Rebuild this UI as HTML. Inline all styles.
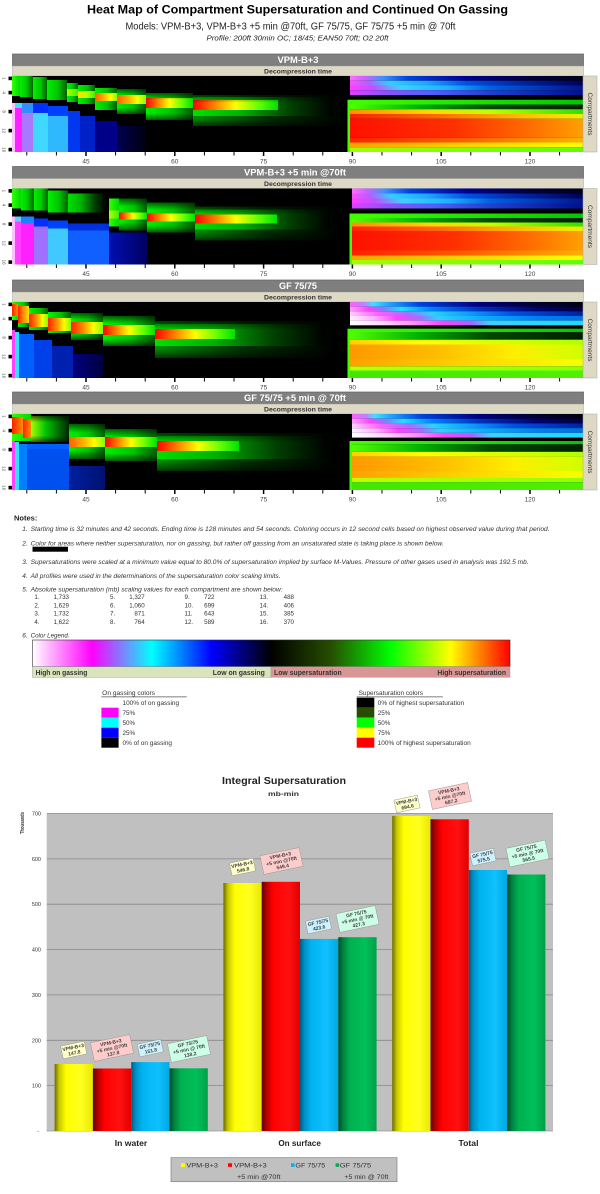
<!DOCTYPE html>
<html><head><meta charset="utf-8"><style>
html,body{margin:0;padding:0;background:#fff;width:600px;height:1194px;overflow:hidden}
svg{display:block}
</style></head><body>
<svg xmlns="http://www.w3.org/2000/svg" width="600" height="1194" viewBox="0 0 600 1194" font-family="'Liberation Sans', Arial, sans-serif">
<defs>
<linearGradient id="vE" x1="0" y1="0" x2="0" y2="1"><stop offset="0" stop-color="#000" stop-opacity=".6"/><stop offset=".25" stop-color="#000" stop-opacity="0"/><stop offset=".75" stop-color="#000" stop-opacity="0"/><stop offset="1" stop-color="#000" stop-opacity=".6"/></linearGradient>
<linearGradient id="gG"><stop offset="0" stop-color="#00f000"/><stop offset=".55" stop-color="#00c400"/><stop offset="1" stop-color="#006000"/></linearGradient>
<linearGradient id="gGB"><stop offset="0" stop-color="#30ff00"/><stop offset="1" stop-color="#00d800"/></linearGradient>
<linearGradient id="gF"><stop offset="0" stop-color="#00e000"/><stop offset=".35" stop-color="#00b000"/><stop offset=".7" stop-color="#004000"/><stop offset="1" stop-color="#000"/></linearGradient>
<linearGradient id="gFD"><stop offset="0" stop-color="#009000"/><stop offset=".5" stop-color="#003000"/><stop offset="1" stop-color="#000"/></linearGradient>
<linearGradient id="gC"><stop offset="0" stop-color="#ff0000"/><stop offset=".25" stop-color="#ff8000"/><stop offset=".5" stop-color="#ffff00"/><stop offset=".78" stop-color="#60ff00"/><stop offset="1" stop-color="#00e000"/></linearGradient>
<linearGradient id="gC2"><stop offset="0" stop-color="#ff2000"/><stop offset=".4" stop-color="#ff9000"/><stop offset=".7" stop-color="#ffff00"/><stop offset="1" stop-color="#80ff00"/></linearGradient>
<linearGradient id="gCO"><stop offset="0" stop-color="#ff6000"/><stop offset=".4" stop-color="#ffb000"/><stop offset=".7" stop-color="#ffff00"/><stop offset="1" stop-color="#80ff00"/></linearGradient>
<linearGradient id="gCY"><stop offset="0" stop-color="#ffe000"/><stop offset=".5" stop-color="#c0ff00"/><stop offset="1" stop-color="#40f000"/></linearGradient>
<linearGradient id="gCYG"><stop offset="0" stop-color="#b0ff00"/><stop offset="1" stop-color="#40f000"/></linearGradient>
<linearGradient id="gCR"><stop offset="0" stop-color="#ff2000"/><stop offset="1" stop-color="#ff9000"/></linearGradient>
<linearGradient id="gCR2"><stop offset="0" stop-color="#ff2000"/><stop offset=".5" stop-color="#ff9000"/><stop offset="1" stop-color="#ffe000"/></linearGradient>
<linearGradient id="gG4"><stop offset="0" stop-color="#a0ff00"/><stop offset=".4" stop-color="#00c000"/><stop offset="1" stop-color="#002800"/></linearGradient>
<linearGradient id="gNv"><stop offset="0" stop-color="#000050"/><stop offset="1" stop-color="#000010"/></linearGradient>
<linearGradient id="gNv2"><stop offset="0" stop-color="#0010b0"/><stop offset="1" stop-color="#000060"/></linearGradient>
<linearGradient id="gNv3"><stop offset="0" stop-color="#000080"/><stop offset="1" stop-color="#000040"/></linearGradient>
<linearGradient id="gNv4"><stop offset="0" stop-color="#0020a0"/><stop offset="1" stop-color="#001070"/></linearGradient>
<linearGradient id="gOnA1"><stop offset="0" stop-color="#ff70ff"/><stop offset=".06" stop-color="#d060ff"/><stop offset=".14" stop-color="#4090ff"/><stop offset=".25" stop-color="#0040e0"/><stop offset=".5" stop-color="#000090"/><stop offset=".75" stop-color="#000040"/><stop offset="1" stop-color="#000018"/></linearGradient>
<linearGradient id="gOnA2"><stop offset="0" stop-color="#ff50ff"/><stop offset=".08" stop-color="#b060ff"/><stop offset=".17" stop-color="#30d0ff"/><stop offset=".32" stop-color="#20a8ff"/><stop offset=".5" stop-color="#0050e0"/><stop offset=".75" stop-color="#0020a0"/><stop offset="1" stop-color="#000058"/></linearGradient>
<linearGradient id="gOnA3"><stop offset="0" stop-color="#ff40ff"/><stop offset=".1" stop-color="#c050ff"/><stop offset=".22" stop-color="#40d0ff"/><stop offset=".42" stop-color="#20b0ff"/><stop offset=".6" stop-color="#0060e0"/><stop offset=".85" stop-color="#0030b0"/><stop offset="1" stop-color="#001888"/></linearGradient>
<linearGradient id="gOnA4"><stop offset="0" stop-color="#e040ff"/><stop offset=".15" stop-color="#9050ff"/><stop offset=".35" stop-color="#5060ff"/><stop offset=".6" stop-color="#2040d0"/><stop offset="1" stop-color="#001090"/></linearGradient>
<linearGradient id="gOnB1"><stop offset="0" stop-color="#ff60ff"/><stop offset=".06" stop-color="#c080ff"/><stop offset=".1" stop-color="#40e0ff"/><stop offset=".17" stop-color="#20a0ff"/><stop offset=".3" stop-color="#0040e0"/><stop offset=".55" stop-color="#000080"/><stop offset=".8" stop-color="#000030"/><stop offset="1" stop-color="#000010"/></linearGradient>
<linearGradient id="gOnB2"><stop offset="0" stop-color="#ffa0ff"/><stop offset=".08" stop-color="#ff40ff"/><stop offset=".15" stop-color="#8080ff"/><stop offset=".22" stop-color="#20e0ff"/><stop offset=".35" stop-color="#0080ff"/><stop offset=".55" stop-color="#0030c0"/><stop offset=".8" stop-color="#000070"/><stop offset="1" stop-color="#000040"/></linearGradient>
<linearGradient id="gOnB3"><stop offset="0" stop-color="#ffd0ff"/><stop offset=".12" stop-color="#ff60ff"/><stop offset=".25" stop-color="#a070ff"/><stop offset=".35" stop-color="#30d0ff"/><stop offset=".5" stop-color="#10a0ff"/><stop offset=".7" stop-color="#0050e0"/><stop offset="1" stop-color="#0020a0"/></linearGradient>
<linearGradient id="gOnB4"><stop offset="0" stop-color="#fff0ff"/><stop offset=".1" stop-color="#ffb0ff"/><stop offset=".2" stop-color="#ff40ff"/><stop offset=".3" stop-color="#a070ff"/><stop offset=".38" stop-color="#30d0ff"/><stop offset=".55" stop-color="#10b0ff"/><stop offset=".8" stop-color="#0080f0"/><stop offset="1" stop-color="#0070e0"/></linearGradient>
<linearGradient id="gOnB5"><stop offset="0" stop-color="#ffffff"/><stop offset=".15" stop-color="#ffd0ff"/><stop offset=".3" stop-color="#ff80ff"/><stop offset=".4" stop-color="#ff40ff"/><stop offset=".52" stop-color="#b060ff"/><stop offset=".6" stop-color="#40d0ff"/><stop offset="1" stop-color="#20d8ff"/></linearGradient>
<linearGradient id="gRg1"><stop offset="0" stop-color="#40ff00"/><stop offset="1" stop-color="#00c800"/></linearGradient>
<linearGradient id="gRg2"><stop offset="0" stop-color="#50ff00"/><stop offset=".3" stop-color="#00b000"/><stop offset=".6" stop-color="#004800"/><stop offset="1" stop-color="#002000"/></linearGradient>
<linearGradient id="gRy"><stop offset="0" stop-color="#ff9000"/><stop offset=".35" stop-color="#ffd800"/><stop offset=".6" stop-color="#c0ff00"/><stop offset="1" stop-color="#30e000"/></linearGradient>
<linearGradient id="gRtop"><stop offset="0" stop-color="#ff2000"/><stop offset=".4" stop-color="#ff7000"/><stop offset=".75" stop-color="#ffc000"/><stop offset="1" stop-color="#f0f000"/></linearGradient>
<linearGradient id="gRblk"><stop offset="0" stop-color="#ff1000"/><stop offset=".45" stop-color="#ff3000"/><stop offset=".75" stop-color="#ff6800"/><stop offset="1" stop-color="#ffa000"/></linearGradient>
<linearGradient id="gR14"><stop offset="0" stop-color="#ff2000"/><stop offset=".5" stop-color="#ff6000"/><stop offset="1" stop-color="#ffb000"/></linearGradient>
<linearGradient id="gR15"><stop offset="0" stop-color="#ffa000"/><stop offset=".5" stop-color="#ffd000"/><stop offset="1" stop-color="#ffff00"/></linearGradient>
<linearGradient id="gR16"><stop offset="0" stop-color="#a0ff00"/><stop offset="1" stop-color="#60ff00"/></linearGradient>
<linearGradient id="gOy1"><stop offset="0" stop-color="#ffd000"/><stop offset=".3" stop-color="#ffff00"/><stop offset="1" stop-color="#b0ff00"/></linearGradient>
<linearGradient id="gOy2"><stop offset="0" stop-color="#ff9800"/><stop offset=".4" stop-color="#ffc000"/><stop offset=".7" stop-color="#ffee00"/><stop offset="1" stop-color="#d0ff00"/></linearGradient>
<linearGradient id="gOy3"><stop offset="0" stop-color="#ffa000"/><stop offset=".5" stop-color="#ffd400"/><stop offset="1" stop-color="#f8ff00"/></linearGradient>
<linearGradient id="gOy4"><stop offset="0" stop-color="#c0ff00"/><stop offset="1" stop-color="#90ff00"/></linearGradient>
<linearGradient id="gOy5"><stop offset="0" stop-color="#40e800"/><stop offset="1" stop-color="#50f000"/></linearGradient>
<linearGradient id="gLeg"><stop offset="0" stop-color="#ffffff"/><stop offset=".125" stop-color="#ff00ff"/><stop offset=".25" stop-color="#00ffff"/><stop offset=".375" stop-color="#0000ff"/><stop offset=".5" stop-color="#000000"/><stop offset=".625" stop-color="#264d00"/><stop offset=".75" stop-color="#00ff00"/><stop offset=".875" stop-color="#ffff00"/><stop offset="1" stop-color="#ff0000"/></linearGradient>
<linearGradient id="bY"><stop offset="0" stop-color="#6b6b00"/><stop offset=".12" stop-color="#c8c800"/><stop offset=".3" stop-color="#ffff00"/><stop offset=".7" stop-color="#ffff20"/><stop offset="1" stop-color="#e8e800"/></linearGradient>
<linearGradient id="bR"><stop offset="0" stop-color="#600000"/><stop offset=".12" stop-color="#b00000"/><stop offset=".3" stop-color="#ff0000"/><stop offset=".7" stop-color="#ff1010"/><stop offset="1" stop-color="#e00000"/></linearGradient>
<linearGradient id="bB"><stop offset="0" stop-color="#005a80"/><stop offset=".12" stop-color="#0090c8"/><stop offset=".3" stop-color="#00b4f0"/><stop offset=".7" stop-color="#10c0ff"/><stop offset="1" stop-color="#00a8e0"/></linearGradient>
<linearGradient id="bG"><stop offset="0" stop-color="#004a25"/><stop offset=".12" stop-color="#008040"/><stop offset=".3" stop-color="#00b050"/><stop offset=".7" stop-color="#00c058"/><stop offset="1" stop-color="#00a048"/></linearGradient>
<clipPath id="hc"><rect x="12" y="0" width="571" height="76"/></clipPath>
</defs>
<rect width="600" height="1194" fill="#fff"/>

<!-- Titles -->
<text x="297.5" y="13.5" font-size="12" font-weight="bold" text-anchor="middle" textLength="421" lengthAdjust="spacingAndGlyphs">Heat Map of Compartment Supersaturation and Continued On Gassing</text>
<text x="290.5" y="29.5" font-size="10" text-anchor="middle" fill="#222" textLength="330" lengthAdjust="spacingAndGlyphs">Models:  VPM-B+3, VPM-B+3 +5 min @70ft, GF 75/75, GF 75/75 +5 min @ 70ft</text>
<text x="297.5" y="40.5" font-size="7.5" font-style="italic" text-anchor="middle" fill="#222" textLength="182" lengthAdjust="spacingAndGlyphs">Profile:  200ft 30min OC; 18/45; EAN50 70ft; O2 20ft</text>

<!-- ===== PANEL 1 ===== -->
<g transform="translate(0,76)">
 <rect x="12.5" y="-22" width="571" height="12" fill="#7f7f7f" stroke="#5f5f5f" stroke-width="0.7"/>
 <text x="298" y="-12.8" font-size="9.5" font-weight="bold" fill="#fff" text-anchor="middle" textLength="41" lengthAdjust="spacingAndGlyphs">VPM-B+3</text>
 <rect x="12.5" y="-10" width="571" height="10" fill="#ddd9c4" stroke="#a6a6a6" stroke-width="0.5"/>
 <text x="298" y="-2.6" font-size="6.5" font-weight="bold" fill="#333" text-anchor="middle" textLength="68" lengthAdjust="spacingAndGlyphs">Decompression time</text>
 <g clip-path="url(#hc)">
  <rect x="12" y="0" width="571" height="76" fill="#000"/>
  <rect x="12" y="0" width="8" height="20" fill="url(#gGB)"/>
  <rect x="20" y="0" width="13" height="21" fill="url(#gG)"/>
  <rect x="33" y="1" width="14" height="22" fill="url(#gG)"/>
  <rect x="47" y="4" width="20" height="20" fill="url(#gG)"/>
  <rect x="67" y="7" width="11" height="19" fill="url(#gG)"/>
  <rect x="67" y="13" width="11" height="7" fill="url(#gCYG)"/>
  <rect x="78" y="9" width="17" height="19" fill="url(#gG)"/>
  <rect x="78" y="15" width="17" height="7" fill="url(#gCY)"/>
  <rect x="95" y="12" width="22" height="22" fill="url(#gG)"/>
  <rect x="95" y="17" width="22" height="8" fill="url(#gCO)"/>
  <rect x="117" y="13" width="29" height="25" fill="url(#gG)"/>
  <rect x="117" y="19" width="29" height="9" fill="url(#gCO)"/>
  <rect x="146" y="17" width="47" height="27" fill="url(#gG)"/>
  <rect x="146" y="22" width="47" height="10" fill="url(#gC)"/>
  <rect x="193" y="19" width="152" height="31" fill="url(#gFD)"/>
  <rect x="193" y="21" width="140" height="19" fill="url(#gF)"/>
  <rect x="193" y="24" width="85" height="10" fill="url(#gC)"/>
  <rect x="95" y="12" width="250" height="38" fill="url(#vE)" opacity=".0"/>
  <rect x="146" y="17" width="47" height="27" fill="url(#vE)"/>
  <rect x="193" y="19" width="152" height="31" fill="url(#vE)"/>
  <rect x="117" y="13" width="29" height="25" fill="url(#vE)"/>
  <rect x="12" y="27" width="3" height="49" fill="#ffc0ff"/>
  <rect x="15" y="27" width="7" height="5" fill="#40e0ff"/>
  <rect x="15" y="32" width="7" height="44" fill="#ff20ff"/>
  <rect x="22" y="27" width="11" height="10" fill="#3090ff"/>
  <rect x="22" y="37" width="11" height="39" fill="#a878ff"/>
  <rect x="33" y="27" width="15" height="10" fill="#0030ff"/>
  <rect x="33" y="37" width="15" height="39" fill="#40d8ff"/>
  <rect x="48" y="30" width="20" height="10" fill="#0040ff"/>
  <rect x="48" y="40" width="20" height="36" fill="#30b8ff"/>
  <rect x="68" y="35" width="12" height="41" fill="#0038f0"/>
  <rect x="80" y="40" width="15" height="36" fill="#0020c8"/>
  <rect x="95" y="45" width="22" height="31" fill="#000088"/>
  <rect x="117" y="50" width="29" height="26" fill="url(#gNv)"/>
  <rect x="350" y="0" width="233" height="4.75" fill="url(#gOnA1)"/>
  <rect x="350" y="4.75" width="233" height="4.75" fill="url(#gOnA2)"/>
  <rect x="350" y="9.5" width="233" height="4.75" fill="url(#gOnA3)"/>
  <rect x="350" y="14.25" width="233" height="4.75" fill="url(#gOnA4)"/>
  <rect x="350" y="23.75" width="233" height="4.75" fill="url(#gRg1)"/>
  <rect x="350" y="28.5" width="233" height="4.75" fill="url(#gRg2)"/>
  <rect x="350" y="33.25" width="233" height="4.75" fill="url(#gRy)"/>
  <rect x="350" y="38" width="233" height="4.75" fill="url(#gRtop)"/>
  <rect x="350" y="42.75" width="233" height="19" fill="url(#gRblk)"/>
  <rect x="350" y="61.75" width="233" height="4.75" fill="url(#gR14)"/>
  <rect x="350" y="66.5" width="233" height="4.75" fill="url(#gR15)"/>
  <rect x="350" y="71.25" width="233" height="4.75" fill="url(#gR16)"/>
  <rect x="347.5" y="23.75" width="2.5" height="52.25" fill="#40ff00"/>
 </g>
 <rect x="583" y="0" width="14" height="76" fill="#ddd9c4" stroke="#a6a6a6" stroke-width="0.5"/>
 <text transform="translate(588,38) rotate(90)" font-size="6.5" text-anchor="middle" fill="#333" textLength="43" lengthAdjust="spacingAndGlyphs">Compartments</text>
 <g fill="#000"><rect x="8.5" y="0.6" width="3.5" height="3.6"/><rect x="8.5" y="14.8" width="3.5" height="3.6"/><rect x="8.5" y="33.8" width="3.5" height="3.6"/><rect x="8.5" y="52.8" width="3.5" height="3.6"/><rect x="8.5" y="71.8" width="3.5" height="3.6"/></g>
 <g font-size="4.5" fill="#444" text-anchor="middle"><text transform="translate(2.5,2.4) rotate(90)">1</text><text transform="translate(2.5,16.6) rotate(90)">4</text><text transform="translate(2.5,35.6) rotate(90)">8</text><text transform="translate(2.5,54.6) rotate(90)">12</text><text transform="translate(2.5,73.6) rotate(90)">16</text></g>
 <path d="M26.8 76v3.5M56.4 76v3.5M115.6 76v3.5M145.2 76v3.5M204.4 76v3.5M234 76v3.5M293.2 76v3.5M322.8 76v3.5M382 76v3.5M411.6 76v3.5M470.8 76v3.5M500.4 76v3.5M559.6 76v3.5" stroke="#000" stroke-width="1"/>
 <path d="M86 76v4M174.8 76v4M263.6 76v4M352.4 76v4M441.2 76v4M530 76v4" stroke="#000" stroke-width="1.5"/>
 <g font-size="6.5" fill="#444" text-anchor="middle"><text x="86" y="87.5">45</text><text x="174.8" y="87.5">60</text><text x="263.6" y="87.5">75</text><text x="352.4" y="87.5">90</text><text x="441.2" y="87.5">105</text><text x="530" y="87.5">120</text></g>
</g>

<!-- ===== PANEL 2 ===== -->
<g transform="translate(0,188.5)">
 <rect x="12.5" y="-22" width="571" height="12" fill="#7f7f7f" stroke="#5f5f5f" stroke-width="0.7"/>
 <text x="295" y="-12.8" font-size="9.5" font-weight="bold" fill="#fff" text-anchor="middle" textLength="102" lengthAdjust="spacingAndGlyphs">VPM-B+3 +5 min @70ft</text>
 <rect x="12.5" y="-10" width="571" height="10" fill="#ddd9c4" stroke="#a6a6a6" stroke-width="0.5"/>
 <text x="298" y="-2.6" font-size="6.5" font-weight="bold" fill="#333" text-anchor="middle" textLength="68" lengthAdjust="spacingAndGlyphs">Decompression time</text>
 <g clip-path="url(#hc)">
  <rect x="12" y="0" width="571" height="76" fill="#000"/>
  <rect x="12" y="0" width="9" height="20" fill="url(#gGB)"/>
  <rect x="21" y="0" width="13" height="22" fill="url(#gG)"/>
  <rect x="34" y="0" width="14" height="22" fill="url(#gG)"/>
  <rect x="48" y="2" width="20" height="22" fill="url(#gG)"/>
  <rect x="68" y="5" width="38" height="19" fill="url(#gF)"/>
  <rect x="109" y="10" width="10" height="28" fill="url(#gGB)"/>
  <rect x="109" y="22" width="10" height="8" fill="url(#gCYG)"/>
  <rect x="119" y="10" width="28" height="32" fill="url(#gG)"/>
  <rect x="119" y="24" width="28" height="7" fill="url(#gC)"/>
  <rect x="147" y="14" width="48" height="30" fill="url(#gG)"/>
  <rect x="147" y="25" width="48" height="8" fill="url(#gC)"/>
  <rect x="195" y="18" width="145" height="34" fill="url(#gFD)"/>
  <rect x="195" y="21" width="135" height="20" fill="url(#gF)"/>
  <rect x="195" y="26" width="82" height="9" fill="url(#gC)"/>
  <rect x="119" y="10" width="28" height="32" fill="url(#vE)"/>
  <rect x="147" y="14" width="48" height="30" fill="url(#vE)"/>
  <rect x="195" y="18" width="145" height="34" fill="url(#vE)"/>
  <rect x="12" y="28" width="3" height="48" fill="#ffc0ff"/>
  <rect x="15" y="28" width="6" height="5" fill="#60d0ff"/>
  <rect x="15" y="33" width="6" height="43" fill="#ff40ff"/>
  <rect x="21" y="28" width="13" height="7" fill="#2080ff"/>
  <rect x="21" y="35" width="13" height="41" fill="#ff20ff"/>
  <rect x="34" y="30" width="14" height="8" fill="#0030ff"/>
  <rect x="34" y="38" width="14" height="38" fill="#a070ff"/>
  <rect x="48" y="32" width="20" height="8" fill="#0040ff"/>
  <rect x="48" y="40" width="20" height="36" fill="#40c8ff"/>
  <rect x="68" y="35" width="41" height="7" fill="#0030e0"/>
  <rect x="68" y="42" width="41" height="34" fill="#1060ff"/>
  <rect x="109" y="44" width="38" height="32" fill="url(#gNv2)"/>
  <rect x="352" y="0" width="231" height="5" fill="url(#gOnA1)"/>
  <rect x="352" y="5" width="231" height="5" fill="url(#gOnA2)"/>
  <rect x="352" y="10" width="231" height="5" fill="url(#gOnA3)"/>
  <rect x="352" y="15" width="231" height="5" fill="url(#gOnA4)"/>
  <rect x="352" y="25" width="231" height="4.5" fill="url(#gRg1)"/>
  <rect x="352" y="29.5" width="231" height="4.5" fill="url(#gRg2)"/>
  <rect x="352" y="34" width="231" height="4" fill="url(#gRy)"/>
  <rect x="352" y="38" width="231" height="4.5" fill="url(#gRtop)"/>
  <rect x="352" y="42.5" width="231" height="19.5" fill="url(#gRblk)"/>
  <rect x="352" y="62" width="231" height="5" fill="url(#gR14)"/>
  <rect x="352" y="67" width="231" height="4.5" fill="url(#gR15)"/>
  <rect x="352" y="71.5" width="231" height="4.5" fill="url(#gR16)"/>
  <rect x="349.5" y="25" width="2.5" height="51" fill="#40ff00"/>
 </g>
 <rect x="583" y="0" width="14" height="76" fill="#ddd9c4" stroke="#a6a6a6" stroke-width="0.5"/>
 <text transform="translate(588,38) rotate(90)" font-size="6.5" text-anchor="middle" fill="#333" textLength="43" lengthAdjust="spacingAndGlyphs">Compartments</text>
 <g fill="#000"><rect x="8.5" y="0.6" width="3.5" height="3.6"/><rect x="8.5" y="14.8" width="3.5" height="3.6"/><rect x="8.5" y="33.8" width="3.5" height="3.6"/><rect x="8.5" y="52.8" width="3.5" height="3.6"/><rect x="8.5" y="71.8" width="3.5" height="3.6"/></g>
 <g font-size="4.5" fill="#444" text-anchor="middle"><text transform="translate(2.5,2.4) rotate(90)">1</text><text transform="translate(2.5,16.6) rotate(90)">4</text><text transform="translate(2.5,35.6) rotate(90)">8</text><text transform="translate(2.5,54.6) rotate(90)">12</text><text transform="translate(2.5,73.6) rotate(90)">16</text></g>
 <path d="M26.8 76v3.5M56.4 76v3.5M115.6 76v3.5M145.2 76v3.5M204.4 76v3.5M234 76v3.5M293.2 76v3.5M322.8 76v3.5M382 76v3.5M411.6 76v3.5M470.8 76v3.5M500.4 76v3.5M559.6 76v3.5" stroke="#000" stroke-width="1"/>
 <path d="M86 76v4M174.8 76v4M263.6 76v4M352.4 76v4M441.2 76v4M530 76v4" stroke="#000" stroke-width="1.5"/>
 <g font-size="6.5" fill="#444" text-anchor="middle"><text x="86" y="87.5">45</text><text x="174.8" y="87.5">60</text><text x="263.6" y="87.5">75</text><text x="352.4" y="87.5">90</text><text x="441.2" y="87.5">105</text><text x="530" y="87.5">120</text></g>
</g>

<!-- ===== PANEL 3 ===== -->
<g transform="translate(0,302)">
 <rect x="12.5" y="-22" width="571" height="12" fill="#7f7f7f" stroke="#5f5f5f" stroke-width="0.7"/>
 <text x="298" y="-12.8" font-size="9.5" font-weight="bold" fill="#fff" text-anchor="middle" textLength="38" lengthAdjust="spacingAndGlyphs">GF 75/75</text>
 <rect x="12.5" y="-10" width="571" height="10" fill="#ddd9c4" stroke="#a6a6a6" stroke-width="0.5"/>
 <text x="298" y="-2.6" font-size="6.5" font-weight="bold" fill="#333" text-anchor="middle" textLength="68" lengthAdjust="spacingAndGlyphs">Decompression time</text>
 <g clip-path="url(#hc)">
  <rect x="12" y="0" width="571" height="76" fill="#000"/>
  <rect x="12" y="0" width="6" height="18" fill="url(#gGB)"/>
  <rect x="12" y="2" width="6" height="12" fill="url(#gCR)"/>
  <rect x="18" y="0" width="11" height="25" fill="url(#gG)"/>
  <rect x="18" y="4" width="11" height="17" fill="url(#gCR2)"/>
  <rect x="29" y="6" width="19" height="22" fill="url(#gG)"/>
  <rect x="29" y="12" width="19" height="13" fill="url(#gC2)"/>
  <rect x="48" y="10" width="23" height="21" fill="url(#gG)"/>
  <rect x="48" y="16" width="23" height="13" fill="url(#gC2)"/>
  <rect x="71" y="11" width="32" height="27" fill="url(#gG)"/>
  <rect x="71" y="20" width="32" height="12" fill="url(#gC2)"/>
  <rect x="103" y="14" width="52" height="30" fill="url(#gG)"/>
  <rect x="103" y="23" width="52" height="10" fill="url(#gC)"/>
  <rect x="155" y="19" width="180" height="37" fill="url(#gFD)"/>
  <rect x="155" y="22" width="170" height="22" fill="url(#gF)"/>
  <rect x="155" y="27" width="80" height="10" fill="url(#gC)"/>
  <rect x="71" y="11" width="32" height="27" fill="url(#vE)"/>
  <rect x="103" y="14" width="52" height="30" fill="url(#vE)"/>
  <rect x="155" y="19" width="180" height="37" fill="url(#vE)"/>
  <rect x="12" y="28" width="3" height="48" fill="#ff40ff"/>
  <rect x="15" y="30" width="4" height="46" fill="#30e0ff"/>
  <rect x="19" y="32" width="15" height="44" fill="#0060ff"/>
  <rect x="34" y="38" width="18" height="38" fill="#0040e8"/>
  <rect x="52" y="44" width="21" height="32" fill="#0020b0"/>
  <rect x="73" y="52" width="30" height="24" fill="url(#gNv3)"/>
  <rect x="350" y="0" width="233" height="4.66" fill="url(#gOnB1)"/>
  <rect x="350" y="4.66" width="233" height="4.66" fill="url(#gOnB2)"/>
  <rect x="350" y="9.32" width="233" height="4.66" fill="url(#gOnB3)"/>
  <rect x="350" y="13.98" width="233" height="4.66" fill="url(#gOnB4)"/>
  <rect x="350" y="18.64" width="233" height="4.66" fill="url(#gOnB5)"/>
  <rect x="350" y="26.7" width="233" height="3.3" fill="url(#gRg1)"/>
  <rect x="350" y="30" width="233" height="7.7" fill="url(#gRg2)"/>
  <rect x="350" y="37.7" width="233" height="4.8" fill="url(#gOy1)"/>
  <rect x="350" y="42.5" width="233" height="14.5" fill="url(#gOy2)"/>
  <rect x="350" y="57" width="233" height="7.3" fill="url(#gOy3)"/>
  <rect x="350" y="64.3" width="233" height="4.2" fill="url(#gOy4)"/>
  <rect x="350" y="68.5" width="233" height="7.5" fill="url(#gOy5)"/>
  <rect x="347.5" y="26.7" width="2.5" height="49.3" fill="#40ff00"/>
 </g>
 <rect x="583" y="0" width="14" height="76" fill="#ddd9c4" stroke="#a6a6a6" stroke-width="0.5"/>
 <text transform="translate(588,38) rotate(90)" font-size="6.5" text-anchor="middle" fill="#333" textLength="43" lengthAdjust="spacingAndGlyphs">Compartments</text>
 <g fill="#000"><rect x="8.5" y="0.6" width="3.5" height="3.6"/><rect x="8.5" y="14.8" width="3.5" height="3.6"/><rect x="8.5" y="33.8" width="3.5" height="3.6"/><rect x="8.5" y="52.8" width="3.5" height="3.6"/><rect x="8.5" y="71.8" width="3.5" height="3.6"/></g>
 <g font-size="4.5" fill="#444" text-anchor="middle"><text transform="translate(2.5,2.4) rotate(90)">1</text><text transform="translate(2.5,16.6) rotate(90)">4</text><text transform="translate(2.5,35.6) rotate(90)">8</text><text transform="translate(2.5,54.6) rotate(90)">12</text><text transform="translate(2.5,73.6) rotate(90)">16</text></g>
 <path d="M26.8 76v3.5M56.4 76v3.5M115.6 76v3.5M145.2 76v3.5M204.4 76v3.5M234 76v3.5M293.2 76v3.5M322.8 76v3.5M382 76v3.5M411.6 76v3.5M470.8 76v3.5M500.4 76v3.5M559.6 76v3.5" stroke="#000" stroke-width="1"/>
 <path d="M86 76v4M174.8 76v4M263.6 76v4M352.4 76v4M441.2 76v4M530 76v4" stroke="#000" stroke-width="1.5"/>
 <g font-size="6.5" fill="#444" text-anchor="middle"><text x="86" y="87.5">45</text><text x="174.8" y="87.5">60</text><text x="263.6" y="87.5">75</text><text x="352.4" y="87.5">90</text><text x="441.2" y="87.5">105</text><text x="530" y="87.5">120</text></g>
</g>

<!-- ===== PANEL 4 ===== -->
<g transform="translate(0,414)">
 <rect x="12.5" y="-22" width="571" height="12" fill="#7f7f7f" stroke="#5f5f5f" stroke-width="0.7"/>
 <text x="295" y="-12.8" font-size="9.5" font-weight="bold" fill="#fff" text-anchor="middle" textLength="102" lengthAdjust="spacingAndGlyphs">GF 75/75 +5 min @ 70ft</text>
 <rect x="12.5" y="-10" width="571" height="10" fill="#ddd9c4" stroke="#a6a6a6" stroke-width="0.5"/>
 <text x="298" y="-2.6" font-size="6.5" font-weight="bold" fill="#333" text-anchor="middle" textLength="68" lengthAdjust="spacingAndGlyphs">Decompression time</text>
 <g clip-path="url(#hc)">
  <rect x="12" y="0" width="571" height="76" fill="#000"/>
  <rect x="12" y="0" width="19" height="27" fill="url(#gGB)"/>
  <rect x="12" y="3" width="11" height="17" fill="url(#gCR)"/>
  <rect x="23" y="5" width="8" height="19" fill="url(#gCR)"/>
  <rect x="31" y="2" width="38" height="26" fill="url(#gG4)"/>
  <rect x="31" y="2" width="38" height="26" fill="url(#vE)"/>
  <rect x="69" y="10" width="36" height="35" fill="url(#gG)"/>
  <rect x="69" y="23" width="36" height="10" fill="url(#gCO)"/>
  <rect x="105" y="15" width="52" height="32" fill="url(#gG)"/>
  <rect x="105" y="23" width="52" height="10" fill="url(#gC)"/>
  <rect x="157" y="19" width="180" height="38" fill="url(#gFD)"/>
  <rect x="157" y="22" width="170" height="23" fill="url(#gF)"/>
  <rect x="157" y="27" width="82" height="10" fill="url(#gC)"/>
  <rect x="69" y="10" width="36" height="35" fill="url(#vE)"/>
  <rect x="105" y="15" width="52" height="32" fill="url(#vE)"/>
  <rect x="157" y="19" width="180" height="38" fill="url(#vE)"/>
  <rect x="12" y="27" width="3" height="49" fill="#ff40ff"/>
  <rect x="15" y="28" width="4" height="48" fill="#30e0ff"/>
  <rect x="19" y="30" width="8" height="46" fill="#0080ff"/>
  <rect x="27" y="30" width="42" height="5" fill="#0060ff"/>
  <rect x="27" y="35" width="42" height="41" fill="#0050f0"/>
  <rect x="69" y="52" width="36" height="24" fill="url(#gNv4)"/>
  <rect x="352" y="0" width="231" height="4.72" fill="url(#gOnB1)"/>
  <rect x="352" y="4.72" width="231" height="4.72" fill="url(#gOnB2)"/>
  <rect x="352" y="9.44" width="231" height="4.72" fill="url(#gOnB3)"/>
  <rect x="352" y="14.16" width="231" height="4.72" fill="url(#gOnB4)"/>
  <rect x="352" y="18.88" width="231" height="4.72" fill="url(#gOnB5)"/>
  <rect x="352" y="27" width="231" height="3.3" fill="url(#gRg1)"/>
  <rect x="352" y="30.3" width="231" height="7.5" fill="url(#gRg2)"/>
  <rect x="352" y="37.8" width="231" height="4.8" fill="url(#gOy1)"/>
  <rect x="352" y="42.6" width="231" height="14.4" fill="url(#gOy2)"/>
  <rect x="352" y="57" width="231" height="7" fill="url(#gOy3)"/>
  <rect x="352" y="64" width="231" height="4.3" fill="url(#gOy4)"/>
  <rect x="352" y="68.3" width="231" height="7.7" fill="url(#gOy5)"/>
  <rect x="349.5" y="27" width="2.5" height="49" fill="#40ff00"/>
 </g>
 <rect x="583" y="0" width="14" height="76" fill="#ddd9c4" stroke="#a6a6a6" stroke-width="0.5"/>
 <text transform="translate(588,38) rotate(90)" font-size="6.5" text-anchor="middle" fill="#333" textLength="43" lengthAdjust="spacingAndGlyphs">Compartments</text>
 <g fill="#000"><rect x="8.5" y="0.6" width="3.5" height="3.6"/><rect x="8.5" y="14.8" width="3.5" height="3.6"/><rect x="8.5" y="33.8" width="3.5" height="3.6"/><rect x="8.5" y="52.8" width="3.5" height="3.6"/><rect x="8.5" y="71.8" width="3.5" height="3.6"/></g>
 <g font-size="4.5" fill="#444" text-anchor="middle"><text transform="translate(2.5,2.4) rotate(90)">1</text><text transform="translate(2.5,16.6) rotate(90)">4</text><text transform="translate(2.5,35.6) rotate(90)">8</text><text transform="translate(2.5,54.6) rotate(90)">12</text><text transform="translate(2.5,73.6) rotate(90)">16</text></g>
 <path d="M26.8 76v3.5M56.4 76v3.5M115.6 76v3.5M145.2 76v3.5M204.4 76v3.5M234 76v3.5M293.2 76v3.5M322.8 76v3.5M382 76v3.5M411.6 76v3.5M470.8 76v3.5M500.4 76v3.5M559.6 76v3.5" stroke="#000" stroke-width="1"/>
 <path d="M86 76v4M174.8 76v4M263.6 76v4M352.4 76v4M441.2 76v4M530 76v4" stroke="#000" stroke-width="1.5"/>
 <g font-size="6.5" fill="#444" text-anchor="middle"><text x="86" y="87.5">45</text><text x="174.8" y="87.5">60</text><text x="263.6" y="87.5">75</text><text x="352.4" y="87.5">90</text><text x="441.2" y="87.5">105</text><text x="530" y="87.5">120</text></g>
</g>

<!-- ===== NOTES ===== -->
<text x="14" y="520.5" font-size="7.5" font-weight="bold" fill="#222">Notes:</text>
<g font-size="6.5" font-style="italic" fill="#333">
 <text x="22.2" y="531">1.</text>
 <text x="30.6" y="531" textLength="519" lengthAdjust="spacingAndGlyphs">Starting time is 32 minutes and 42 seconds.  Ending time is 128 minutes and 54 seconds.  Coloring occurs in 12 second cells based on highest observed value during that period.</text>
 <text x="22.2" y="545.5">2.</text>
 <text x="30.6" y="545.5" textLength="413" lengthAdjust="spacingAndGlyphs">Color for areas where neither supersaturation, nor on gassing, but rather off gassing from an unsaturated state is taking place is shown below.</text>
 <text x="22.2" y="564">3.</text>
 <text x="30.6" y="564" textLength="498" lengthAdjust="spacingAndGlyphs">Supersaturations were scaled at a minimum value equal to 80.0% of supersaturation implied by surface M-Values.  Pressure of other gases used in analysis was 192.5 mb.</text>
 <text x="22.2" y="578">4.</text>
 <text x="30.6" y="578" textLength="250" lengthAdjust="spacingAndGlyphs">All profiles were used in the determinations of the supersaturation color scaling limits.</text>
 <text x="22.2" y="591.5">5.</text>
 <text x="30.6" y="591.5" textLength="252" lengthAdjust="spacingAndGlyphs">Absolute supersaturation (mb) scaling values for each compartment are shown below:</text>
 <text x="22.2" y="637.7">6.</text>
 <text x="30.6" y="637.7" textLength="39" lengthAdjust="spacingAndGlyphs">Color Legend.</text>
</g>
<rect x="32.5" y="546.7" width="35.5" height="5" fill="#000"/>
<g font-size="6.2" fill="#333">
 <text x="34.4" y="599">1.</text><text x="69" y="599" text-anchor="end">1,733</text>
 <text x="34.4" y="607.3">2.</text><text x="69" y="607.3" text-anchor="end">1,629</text>
 <text x="34.4" y="615.6">3.</text><text x="69" y="615.6" text-anchor="end">1,732</text>
 <text x="34.4" y="623.9">4.</text><text x="69" y="623.9" text-anchor="end">1,622</text>
 <text x="110" y="599">5.</text><text x="144.7" y="599" text-anchor="end">1,327</text>
 <text x="110" y="607.3">6.</text><text x="144.7" y="607.3" text-anchor="end">1,060</text>
 <text x="110" y="615.6">7.</text><text x="144.7" y="615.6" text-anchor="end">871</text>
 <text x="110" y="623.9">8.</text><text x="144.7" y="623.9" text-anchor="end">764</text>
 <text x="184.5" y="599">9.</text><text x="214.5" y="599" text-anchor="end">722</text>
 <text x="184.5" y="607.3">10.</text><text x="214.5" y="607.3" text-anchor="end">699</text>
 <text x="184.5" y="615.6">11.</text><text x="214.5" y="615.6" text-anchor="end">643</text>
 <text x="184.5" y="623.9">12.</text><text x="214.5" y="623.9" text-anchor="end">589</text>
 <text x="259.5" y="599">13.</text><text x="294" y="599" text-anchor="end">488</text>
 <text x="259.5" y="607.3">14.</text><text x="294" y="607.3" text-anchor="end">406</text>
 <text x="259.5" y="615.6">15.</text><text x="294" y="615.6" text-anchor="end">385</text>
 <text x="259.5" y="623.9">16.</text><text x="294" y="623.9" text-anchor="end">370</text>
</g>

<!-- ===== COLOR LEGEND ===== -->
<rect x="32.5" y="640" width="477.5" height="26.7" fill="url(#gLeg)" stroke="#333" stroke-width="0.6"/>
<rect x="32.5" y="666.7" width="238.5" height="10.6" fill="#d8e4bc" stroke="#999" stroke-width="0.5"/>
<rect x="271" y="666.7" width="239" height="10.6" fill="#da9694" stroke="#999" stroke-width="0.5"/>
<g font-size="7" font-weight="bold" fill="#333">
 <text x="35.6" y="675" textLength="51.7" lengthAdjust="spacingAndGlyphs">High on gassing</text>
 <text x="212.8" y="675" textLength="52" lengthAdjust="spacingAndGlyphs">Low on gassing</text>
 <text x="274" y="675" textLength="67.7" lengthAdjust="spacingAndGlyphs">Low supersaturation</text>
 <text x="437.4" y="675" textLength="68.6" lengthAdjust="spacingAndGlyphs">High supersaturation</text>
</g>
<g font-size="6.3" fill="#333">
 <text x="102.2" y="695" textLength="52.8" lengthAdjust="spacingAndGlyphs">On gassing colors</text>
 <path d="M101.4 696.9H186.7" stroke="#555" stroke-width="0.7"/>
 <rect x="101.4" y="707.7" width="17.2" height="10" fill="#ff00ff"/>
 <rect x="101.4" y="717.7" width="17.2" height="10" fill="#00ffff"/>
 <rect x="101.4" y="727.7" width="17.2" height="10" fill="#0000ff"/>
 <rect x="101.4" y="737.7" width="17.2" height="10" fill="#000000"/>
 <text x="122.5" y="705" textLength="56.6" lengthAdjust="spacingAndGlyphs">100% of on gassing</text>
 <text x="122.5" y="715">75%</text>
 <text x="122.5" y="725">50%</text>
 <text x="122.5" y="734.8">25%</text>
 <text x="122.5" y="744.8" textLength="49.5" lengthAdjust="spacingAndGlyphs">0% of on gassing</text>
 <text x="358.6" y="695" textLength="64.4" lengthAdjust="spacingAndGlyphs">Supersaturation colors</text>
 <path d="M356.7 696.9H442.8" stroke="#555" stroke-width="0.7"/>
 <rect x="356.7" y="697.7" width="17.6" height="10" fill="#000000"/>
 <rect x="356.7" y="707.7" width="17.6" height="10" fill="#264d00"/>
 <rect x="356.7" y="717.7" width="17.6" height="10" fill="#00ff00"/>
 <rect x="356.7" y="727.7" width="17.6" height="10" fill="#ffff00"/>
 <rect x="356.7" y="737.7" width="17.6" height="10" fill="#ff0000"/>
 <text x="377.7" y="705" textLength="86.5" lengthAdjust="spacingAndGlyphs">0% of highest supersaturation</text>
 <text x="377.7" y="715">25%</text>
 <text x="377.7" y="725">50%</text>
 <text x="377.7" y="734.8">75%</text>
 <text x="377.7" y="744.8" textLength="93" lengthAdjust="spacingAndGlyphs">100% of highest supersaturation</text>
</g>

<!-- ===== BAR CHART ===== -->
<text x="284" y="784" font-size="10.5" font-weight="bold" fill="#222" text-anchor="middle" textLength="124" lengthAdjust="spacingAndGlyphs">Integral Supersaturation</text>
<text x="283.5" y="796" font-size="6.5" font-weight="bold" fill="#333" text-anchor="middle" textLength="31" lengthAdjust="spacingAndGlyphs">mb-min</text>
<rect x="46.7" y="813.5" width="506.3" height="317.5" fill="#c0c0c0"/>
<path d="M46.7 813.5H553M46.7 858.9H553M46.7 904.2H553M46.7 949.6H553M46.7 994.9H553M46.7 1040.3H553M46.7 1085.6H553" stroke="#888" stroke-width="0.8"/>
<path d="M46.7 1131H553" stroke="#999" stroke-width="0.8"/>
<g font-size="5.5" fill="#333" text-anchor="end">
 <text x="41" y="815.5">700</text><text x="41" y="860.9">600</text><text x="41" y="906.2">500</text><text x="41" y="951.6">400</text><text x="41" y="996.9">300</text><text x="41" y="1042.3">200</text><text x="41" y="1087.6">100</text><text x="39" y="1133">-</text>
</g>
<text transform="translate(24,823) rotate(-90)" font-size="5.5" font-weight="bold" fill="#333" text-anchor="middle" textLength="22" lengthAdjust="spacingAndGlyphs">Thousands</text>
<!-- bars -->
<rect x="54.6" y="1064" width="38.3" height="67" fill="url(#bY)"/>
<rect x="92.9" y="1068.5" width="38.3" height="62.5" fill="url(#bR)"/>
<rect x="131.2" y="1062.1" width="38.3" height="68.9" fill="url(#bB)"/>
<rect x="169.5" y="1068.3" width="38.3" height="62.7" fill="url(#bG)"/>
<rect x="223.4" y="883" width="38.3" height="248" fill="url(#bY)"/>
<rect x="261.7" y="881.8" width="38.3" height="249.2" fill="url(#bR)"/>
<rect x="300" y="938.9" width="38.3" height="192.1" fill="url(#bB)"/>
<rect x="338.3" y="937.2" width="38.3" height="193.8" fill="url(#bG)"/>
<rect x="392.2" y="815.9" width="38.3" height="315.1" fill="url(#bY)"/>
<rect x="430.5" y="819.3" width="38.3" height="311.7" fill="url(#bR)"/>
<rect x="468.8" y="870" width="38.3" height="261" fill="url(#bB)"/>
<rect x="507.1" y="874.5" width="38.3" height="256.5" fill="url(#bG)"/>
<!-- data labels -->
<g font-size="5" font-weight="bold" text-anchor="middle" fill="#404040" stroke-width="0.5">
 <g transform="translate(73.7,1050) rotate(-12)"><rect x="-12" y="-6.5" width="24" height="13" fill="#ffffc8" stroke="#999"/><text y="-1">VPM-B+3</text><text y="4.6">147.8</text></g>
 <g transform="translate(112,1048) rotate(-12)"><rect x="-20" y="-9.5" width="40" height="19" fill="#ffcccc" stroke="#999"/><text y="-3.8">VPM-B+3</text><text y="1.8">+5 min @70ft</text><text y="7.4">137.8</text></g>
 <g transform="translate(150.3,1048) rotate(-12)"><rect x="-12" y="-6.5" width="24" height="13" fill="#ccf2ff" stroke="#999"/><text y="-1">GF 75/75</text><text y="4.6">151.8</text></g>
 <g transform="translate(189,1049) rotate(-12)"><rect x="-20" y="-9.5" width="40" height="19" fill="#ccffe6" stroke="#999"/><text y="-3.8">GF 75/75</text><text y="1.8">+5 min @ 70ft</text><text y="7.4">138.2</text></g>
 <g transform="translate(242.5,867) rotate(-12)"><rect x="-12" y="-6.5" width="24" height="13" fill="#ffffc8" stroke="#999"/><text y="-1">VPM-B+3</text><text y="4.6">546.8</text></g>
 <g transform="translate(281.5,861) rotate(-12)"><rect x="-20" y="-9.5" width="40" height="19" fill="#ffcccc" stroke="#999"/><text y="-3.8">VPM-B+3</text><text y="1.8">+5 min @70ft</text><text y="7.4">549.4</text></g>
 <g transform="translate(318.5,925) rotate(-12)"><rect x="-12" y="-6.5" width="24" height="13" fill="#ccf2ff" stroke="#999"/><text y="-1">GF 75/75</text><text y="4.6">423.6</text></g>
 <g transform="translate(357.5,919) rotate(-12)"><rect x="-20" y="-9.5" width="40" height="19" fill="#ccffe6" stroke="#999"/><text y="-3.8">GF 75/75</text><text y="1.8">+5 min @ 70ft</text><text y="7.4">427.3</text></g>
 <g transform="translate(407,804) rotate(-12)"><rect x="-12" y="-6.5" width="24" height="13" fill="#ffffc8" stroke="#999"/><text y="-1">VPM-B+3</text><text y="4.6">694.6</text></g>
 <g transform="translate(450,796) rotate(-12)"><rect x="-20" y="-9.5" width="40" height="19" fill="#ffcccc" stroke="#999"/><text y="-3.8">VPM-B+3</text><text y="1.8">+5 min @70ft</text><text y="7.4">687.2</text></g>
 <g transform="translate(483,857) rotate(-12)"><rect x="-12" y="-6.5" width="24" height="13" fill="#ccf2ff" stroke="#999"/><text y="-1">GF 75/75</text><text y="4.6">575.5</text></g>
 <g transform="translate(527.5,853.5) rotate(-12)"><rect x="-20" y="-9.5" width="40" height="19" fill="#ccffe6" stroke="#999"/><text y="-3.8">GF 75/75</text><text y="1.8">+5 min @ 70ft</text><text y="7.4">565.5</text></g>
</g>
<!-- category labels -->
<g font-size="8" font-weight="bold" fill="#222" text-anchor="middle">
 <text x="131" y="1146" textLength="32.5" lengthAdjust="spacingAndGlyphs">In water</text>
 <text x="299.6" y="1146" textLength="42.5" lengthAdjust="spacingAndGlyphs">On surface</text>
 <text x="468.5" y="1146" textLength="20" lengthAdjust="spacingAndGlyphs">Total</text>
</g>
<!-- legend -->
<rect x="171" y="1157.7" width="226" height="24" fill="#c0c0c0" stroke="#808080" stroke-width="0.7"/>
<rect x="181" y="1163.3" width="4" height="3.6" fill="#ffff00"/>
<rect x="228" y="1163.3" width="4" height="3.6" fill="#ff0000"/>
<rect x="291" y="1163.3" width="3.6" height="3.6" fill="#00b0f0"/>
<rect x="335.6" y="1163.3" width="3.6" height="3.6" fill="#00b050"/>
<g font-size="6.3" fill="#333">
 <text x="186.4" y="1167.5" textLength="31.6" lengthAdjust="spacingAndGlyphs">VPM-B+3</text>
 <text x="234" y="1167.5" textLength="32.7" lengthAdjust="spacingAndGlyphs">VPM-B+3</text>
 <text x="237" y="1179" textLength="43.5" lengthAdjust="spacingAndGlyphs">+5 min @70ft</text>
 <text x="295.4" y="1167.5" textLength="29.9" lengthAdjust="spacingAndGlyphs">GF 75/75</text>
 <text x="339.8" y="1167.5" textLength="31.4" lengthAdjust="spacingAndGlyphs">GF 75/75</text>
 <text x="344.4" y="1179" textLength="44" lengthAdjust="spacingAndGlyphs">+5 min @ 70ft</text>
</g>
</svg>
</body></html>
